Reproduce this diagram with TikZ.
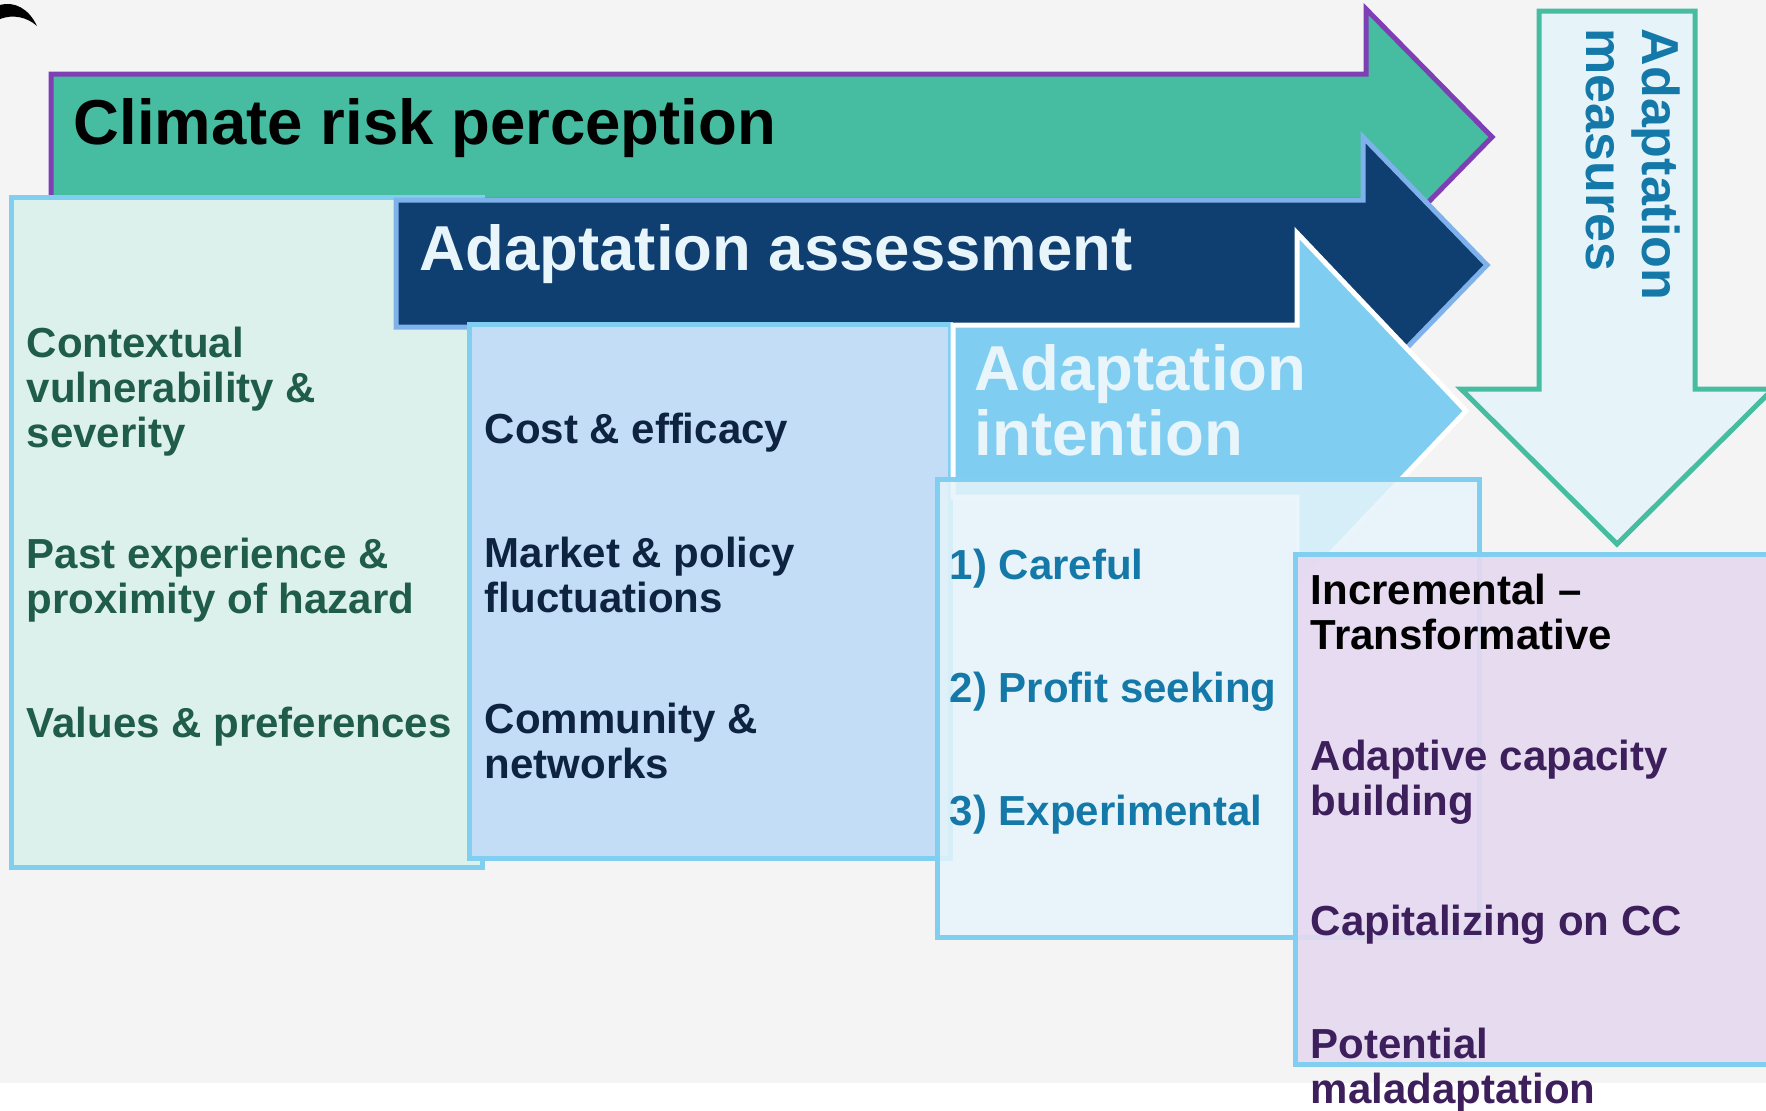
\documentclass[tikz,border=0pt]{standalone}
\usepackage{fontspec}
\setmainfont{Liberation Sans}
\usepackage{tikz}
\definecolor{backdrop}{HTML}{F4F4F4}
\definecolor{riskgreen}{HTML}{46BCA0}
\definecolor{riskpurple}{HTML}{7E3FB5}
\definecolor{assessnavy}{HTML}{0F3E70}
\definecolor{assessedge}{HTML}{7FB2EA}
\definecolor{intentblue}{HTML}{7FCDF0}
\definecolor{frameblue}{HTML}{80CFF1}
\definecolor{mintfill}{HTML}{DDF1EC}
\definecolor{skyfill}{HTML}{C2DDF5}
\definecolor{palefill}{HTML}{E6F4FA}
\definecolor{lilacfill}{HTML}{E6D9F0}
\definecolor{pinegreen}{HTML}{1F5C4A}
\definecolor{inknavy}{HTML}{0E2340}
\definecolor{tealtext}{HTML}{1479A8}
\definecolor{plumtext}{HTML}{3D1F5C}
\definecolor{titlewhite}{HTML}{E8F5FB}
\tikzset{
  item/.style={anchor=west,align=left,inner sep=0pt,font=\bfseries\fontsize{11.95}{12.8}\selectfont},
  heading/.style={anchor=west,align=left,inner sep=0pt,font=\bfseries\fontsize{18.07}{18.5}\selectfont},
  panel/.style={draw=frameblue,line width=0.5mm},
}
\begin{document}
\begin{tikzpicture}[x=0.1mm,y=-0.1mm]
\useasboundingbox (0,0) rectangle (1766,1110);
\fill[backdrop] (0,0) rectangle (1766,1083);
\fill (0,5) .. controls (15,1) and (29,9) .. (37,26) .. controls (27,17) and (13,14) .. (0,19) -- cycle;
% climate risk perception
\draw[riskpurple,fill=riskgreen,line width=0.5mm] (51,74) -- (1366,74) -- (1366,9) -- (1492,137) -- (1366,266) -- (1366,200) -- (51,200) -- cycle;
\node[heading,text=black] (risk) at (73,128) {Climate risk perception};
\draw[panel,fill=mintfill] (11,197) rectangle (482,867);
\node[item,text=pinegreen] (context) at (26,392) {Contextual\\vulnerability \&\\severity};
\node[item,text=pinegreen] (past) at (26,580) {Past experience \&\\proximity of hazard};
\node[item,text=pinegreen] (values) at (26,727) {Values \& preferences};
% adaptation assessment
\draw[assessedge,fill=assessnavy,line width=0.5mm] (396,200) -- (1363,200) -- (1363,137) -- (1487,265) -- (1363,393) -- (1363,327) -- (396,327) -- cycle;
\node[heading,text=titlewhite] (assess) at (419,254) {Adaptation assessment};
\draw[panel,fill=skyfill] (469,324) rectangle (950,858);
\node[item,text=inknavy] (cost) at (484,433) {Cost \& efficacy};
\node[item,text=inknavy] (market) at (484,575) {Market \& policy\\fluctuations};
\node[item,text=inknavy] (community) at (484,741) {Community \&\\networks};
% adaptation intention
\draw[white,fill=intentblue,line width=0.5mm] (953,325) -- (1297,325) -- (1297,233) -- (1466,411) -- (1297,589) -- (1297,497) -- (953,497) -- cycle;
\node[heading,text=titlewhite] (intent) at (974,400) {Adaptation\\intention};
\draw[panel,fill=palefill,fill opacity=0.85] (937,479) rectangle (1479,937);
\node[item,text=tealtext] (careful) at (949,569) {1) Careful};
\node[item,text=tealtext] (profit) at (949,692) {2) Profit seeking};
\node[item,text=tealtext] (experiment) at (949,815) {3) Experimental};
% adaptation measures
\draw[riskgreen,fill=palefill,line width=0.5mm] (1539,11) -- (1695,11) -- (1695,389) -- (1773,389) -- (1617,544) -- (1461,389) -- (1539,389) -- cycle;
\node[anchor=west,align=left,inner sep=0pt,rotate=-90,text=tealtext,font=\bfseries\fontsize{14.8}{15.9}\selectfont] (measures) at (1633,28) {Adaptation\\measures};
\draw[panel,fill=lilacfill,fill opacity=0.9] (1295,554) rectangle (1780,1064);
\node[item,text=black] (incremental) at (1310,612) {Incremental --\\Transformative};
\node[item,text=plumtext] (capacity) at (1310,782) {Adaptive capacity\\building};
\node[item,text=plumtext] (capital) at (1310,925) {Capitalizing on CC};
\node[item,text=plumtext] (maladapt) at (1310,1070) {Potential\\maladaptation};
\end{tikzpicture}
\end{document}
